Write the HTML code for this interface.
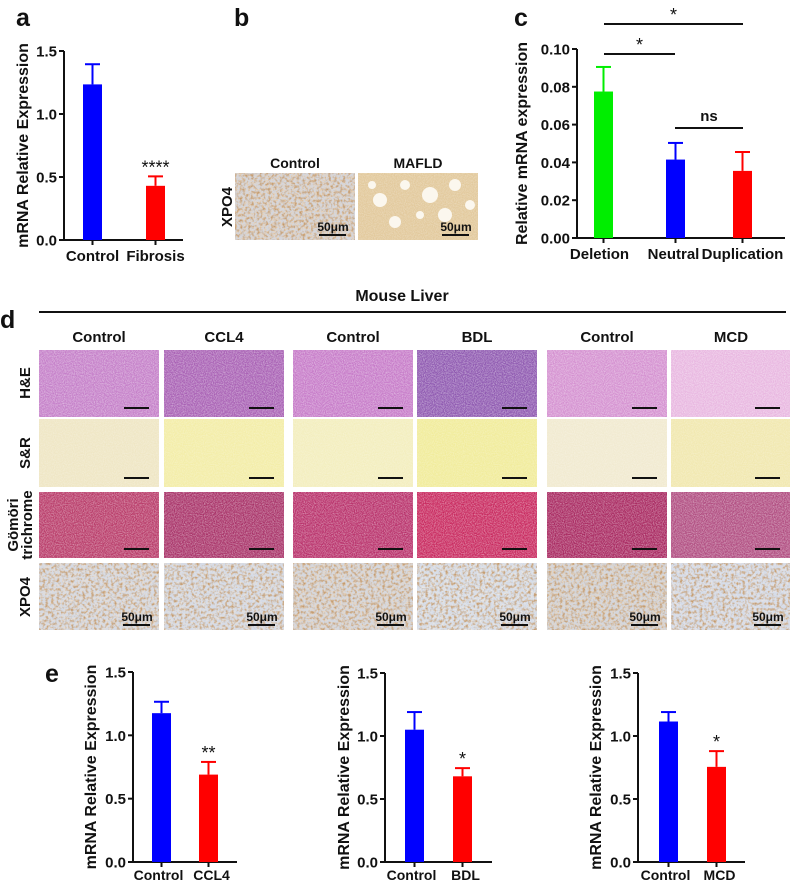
<!DOCTYPE html>
<html><head><meta charset="utf-8">
<style>
html,body{margin:0;padding:0;background:#fff;}
svg{display:block;font-family:"Liberation Sans",Arial,sans-serif;}
text{font-weight:bold;fill:#111;}
</style></head>
<body>
<svg id="fig" width="791" height="881" viewBox="0 0 791 881" xmlns="http://www.w3.org/2000/svg">
<defs>
 <filter id="grain" x="0" y="0" width="100%" height="100%">
  <feTurbulence type="fractalNoise" baseFrequency="0.9" numOctaves="2" seed="3" result="n"/>
  <feColorMatrix in="n" type="matrix" values="0 0 0 0 1  0 0 0 0 1  0 0 0 0 1  0 0 0 -1.6 1.1"/>
 </filter>
 <filter id="cells" x="0" y="0" width="100%" height="100%">
  <feTurbulence type="fractalNoise" baseFrequency="0.35" numOctaves="2" seed="7" result="n"/>
  <feColorMatrix in="n" type="matrix" values="0 0 0 0 0.55  0 0 0 0 0.3  0 0 0 0 0.12  0 0 0 -2.6 1.45"/>
 </filter>
 <filter id="blue" x="0" y="0" width="100%" height="100%">
  <feTurbulence type="turbulence" baseFrequency="0.45" numOctaves="1" seed="11" result="n"/>
  <feColorMatrix in="n" type="matrix" values="0 0 0 0 0.62  0 0 0 0 0.7  0 0 0 0 0.85  0 0 0 -3 1.3"/>
 </filter>
</defs>
<g id="labels">
 <text x="16" y="26" font-size="25">a</text>
 <text x="234" y="26" font-size="25">b</text>
 <text x="514" y="26" font-size="25">c</text>
 <text x="0" y="328" font-size="25">d</text>
 <text x="45" y="682" font-size="25">e</text>
</g>
<g id="charts"></g>
<g id="hist"></g>
</svg>
<script>
// ---- data ----
const aCats = ["Control","Fibrosis"];
const aVals = [1.235, 0.43];
const aErr = [0.16, 0.075];
const aSig = ["","****"];
const aTicks = ["0.0","0.5","1.0","1.5"];

const cCats = ["Deletion","Neutral","Duplication"];
const cVals = [0.0775, 0.0415, 0.0355];
const cErr = [0.013, 0.0088, 0.01];
const cTicks = ["0.00","0.02","0.04","0.06","0.08","0.10"];

const e1Cats = ["Control","CCL4"];
const e1Vals = [1.175, 0.69];
const e1Err = [0.09, 0.1];
const e1Sig = ["","**"];
const e2Cats = ["Control","BDL"];
const e2Vals = [1.05, 0.68];
const e2Err = [0.14, 0.065];
const e2Sig = ["","*"];
const e3Cats = ["Control","MCD"];
const e3Vals = [1.115, 0.755];
const e3Err = [0.075, 0.125];
const e3Sig = ["","*"];
const eTicks = ["0.0","0.5","1.0","1.5"];

const NS="http://www.w3.org/2000/svg";
function mk(tag, attrs, parent){const el=document.createElementNS(NS,tag);for(const k in attrs)el.setAttribute(k,attrs[k]);parent.appendChild(el);return el;}
const charts=document.getElementById('charts');

function barChart(name, g0, cfg, cats, vals, errs, sigs, ticks, colors){
  const g=mk('g',{},charts);
  
  
  const ymax=parseFloat(ticks[ticks.length-1]);
  const y=v=>cfg.y0-(v/ymax)*(cfg.y0-cfg.y1);
  const ya=mk('line',{x1:cfg.ax,y1:cfg.y1,x2:cfg.ax,y2:cfg.y0,stroke:'#111','stroke-width':2},g);
  
  
  const xa=mk('line',{x1:cfg.ax-1,y1:cfg.y0,x2:cfg.xend,y2:cfg.y0,stroke:'#111','stroke-width':2},g);
  
  
  ticks.forEach(t=>{
    const v=parseFloat(t), yy=y(v);
    mk('line',{x1:cfg.ax-5,y1:yy,x2:cfg.ax,y2:yy,stroke:'#111','stroke-width':2},g);
    const tx=mk('text',{x:cfg.ax-7,y:yy+5.5,'font-size':15,'text-anchor':'end'},g);
    tx.textContent=t;
    
    
  });
  const yt=mk('text',{x:0,y:0,'font-size':cfg.tfs||16,'text-anchor':'middle',transform:`translate(${cfg.tx},${(cfg.y0+cfg.y1)/2}) rotate(-90)`},g);
  yt.textContent=cfg.title;
  
  
  cats.forEach((c,i)=>{
    const cx=cfg.bx[i], w=cfg.bw, col=colors[i];
    const top=y(vals[i]), et=y(vals[i]+errs[i]);
    const eb=mk('line',{x1:cx,y1:et,x2:cx,y2:top,stroke:col,'stroke-width':2},g);
    
    
    mk('line',{x1:cx-w/2+2,y1:et,x2:cx+w/2-2,y2:et,stroke:col,'stroke-width':2},g);
    const r=mk('rect',{x:cx-w/2,y:top,width:w,height:cfg.y0-top,fill:col},g);
    
    
    mk('line',{x1:cx,y1:cfg.y0,x2:cx,y2:cfg.y0+5,stroke:'#111','stroke-width':2},g);
    const lt=mk('text',{x:cx+(cfg.lo?cfg.lo[i]:0),y:cfg.y0+(cfg.ly||21),'font-size':cfg.lfs||15,'text-anchor':'middle'},g);
    lt.textContent=c;
    
    
    if(sigs && sigs[i]){
      const s=mk('text',{x:cx,y:et-3,'font-size':18,'text-anchor':'middle',style:'font-weight:normal'},g);
      s.textContent=sigs[i];
      
      
    }
  });
  return {g,y};
}
const B='#0000ff', R='#ff0000', G='#00ee00';
barChart('chart-a',0,{ax:64,y0:240,y1:51,xend:183,bx:[92.5,155.5],bw:19,tx:28,title:'mRNA Relative Expression'},aCats,aVals,aErr,aSig,aTicks,[B,R]);
const c=barChart('chart-c',0,{ax:577,y0:238,y1:49,xend:785,bx:[603.5,675.5,742.5],bw:19,tx:527,title:'Relative mRNA expression',lo:[-4,-2,0]},cCats,cVals,cErr,null,cTicks,[G,B,R]);
[[604,743,24,'*'],[604,675,54,'*'],[675,743,128,'ns']].forEach(b=>{
  const l=mk('line',{x1:b[0],y1:b[2],x2:b[1],y2:b[2],stroke:'#111','stroke-width':2},c.g);
  
  
  const t=mk('text',{x:(b[0]+b[1])/2,y:b[2]-(b[3]==='ns'?7:3),'font-size':b[3]==='ns'?15:18,'text-anchor':'middle',style:b[3]==='ns'?'':'font-weight:normal'},c.g);
  t.textContent=b[3];
  
  
});
barChart('chart-e-ccl4',0,{ax:133,y0:862,y1:672,xend:237,bx:[161.5,208.5],bw:19,tx:96,ly:18,lfs:14,lo:[-3,3],title:'mRNA Relative Expression'},e1Cats,e1Vals,e1Err,e1Sig,eTicks,[B,R]);
barChart('chart-e-bdl',0,{ax:385,y0:862,y1:673,xend:492,bx:[414.5,462.5],bw:19,tx:349,ly:18,lfs:14,lo:[-3,3],title:'mRNA Relative Expression'},e2Cats,e2Vals,e2Err,e2Sig,eTicks,[B,R]);
barChart('chart-e-mcd',0,{ax:638,y0:862,y1:673,xend:745,bx:[668.5,716.5],bw:19,tx:601,ly:18,lfs:14,lo:[-3,3],title:'mRNA Relative Expression'},e3Cats,e3Vals,e3Err,e3Sig,eTicks,[B,R]);

// ---- histology ----
const hist=document.getElementById('hist');
function tile(name,x,y,w,h,base,kind,bar){
  const g=mk('g',{},hist);
  
  
  mk('rect',{x,y,width:w,height:h,fill:base},g);
  if(kind==='ihc'){
    mk('rect',{x,y,width:w,height:h,filter:'url(#blue)',opacity:0.7},g);
    mk('rect',{x,y,width:w,height:h,filter:'url(#cells)',opacity:0.9},g);
  } else {
    mk('rect',{x,y,width:w,height:h,filter:'url(#grain)',opacity:kind==='light'?0.35:0.55},g);
  }
  if(bar==='um'){
    const t=mk('text',{x:x+w-22,y:y+h-9,'font-size':12,'text-anchor':'middle'},g);
    t.textContent='50μm';
    
    
    mk('line',{x1:x+w-36,y1:y+h-5,x2:x+w-9,y2:y+h-5,stroke:'#111','stroke-width':2},g);
  } else if(bar){
    const sb=mk('line',{x1:x+w-35,y1:y+h-9,x2:x+w-10,y2:y+h-9,stroke:'#111','stroke-width':2},g);
    
    
  }
  return g;
}
function txt(s,x,y,fs,name,rot){const t=mk('text',{x,y,'font-size':fs,'text-anchor':'middle'},hist);if(rot){t.setAttribute('transform',`rotate(-90 ${x} ${y})`);}t.textContent=s;return t;}
txt('Control',295,168,14,'panel-b-control-label');
txt('MAFLD',418,168,14,'panel-b-mafld-label');
txt('XPO4',232,207,15,'panel-b-row-label',true);
tile('ihc-control',235,173,120,67,'#e6cfb4','ihc','um');
const mf=tile('ihc-mafld',358,173,120,67,'#e2c99c','light',false);
[[380,200,7],[405,185,5],[430,195,8],[455,185,6],[445,215,7],[470,205,5],[395,222,6],[420,215,4],[372,185,4]].forEach(p=>mk('circle',{cx:p[0],cy:p[1],r:p[2],fill:'#fbf7ee'},mf));
{const t=mk('text',{x:456,y:231,'font-size':12,'text-anchor':'middle'},mf);t.textContent='50μm';mk('line',{x1:442,y1:235,x2:469,y2:235,stroke:'#111','stroke-width':2},mf);}
const hdr=mk('line',{x1:39,y1:312,x2:786,y2:312,stroke:'#111','stroke-width':2},hist);


txt('Mouse Liver',402,301,16,'mouse-liver-title');
const colX=[39,164,293,417,547,671];
const colN=['Control','CCL4','Control','BDL','Control','MCD'];
const rowY=[[350,67],[419,68],[492,66],[563,67]];
colX.forEach((x,i)=>txt(colN[i],x+60,342,15,'column-header'));
const rowNames=['he','sr','gomori','xpo4'];
const cols=[
 ['#c47ec8','#efe6c4','#b83a68','#e8ddd2'],
 ['#a860b4','#f3eda8','#a83268','#e6e0da'],
 ['#c67ac8','#f3eebe','#b8306a','#e6d4c0'],
 ['#8e58b0','#f1ec9c','#c8285e','#e9e6e2'],
 ['#d490d0','#f1ead0','#a82860','#e4d2bc'],
 ['#e8b6e0','#f1e8b0','#b04c80','#e6e2e2']];
colX.forEach((x,i)=>rowY.forEach((r,j)=>{
  tile('histology-'+rowNames[j]+'-'+(i+1),x,r[0],(i===5?119:120),r[1],cols[i][j],j===3?'ihc':(j===1?'light':'dark'),j===3?'um':true);
}));
txt('H&E',30,383,15,'row-label-he',true);
txt('S&R',30,453,15,'row-label-sr',true);
txt('Gömöri',18,525,15,'row-label-gomori',true);
txt('trichrome',32,525,15,'row-label-trichrome',true);
txt('XPO4',30,597,15,'row-label-xpo4',true);
</script>
</body></html>
